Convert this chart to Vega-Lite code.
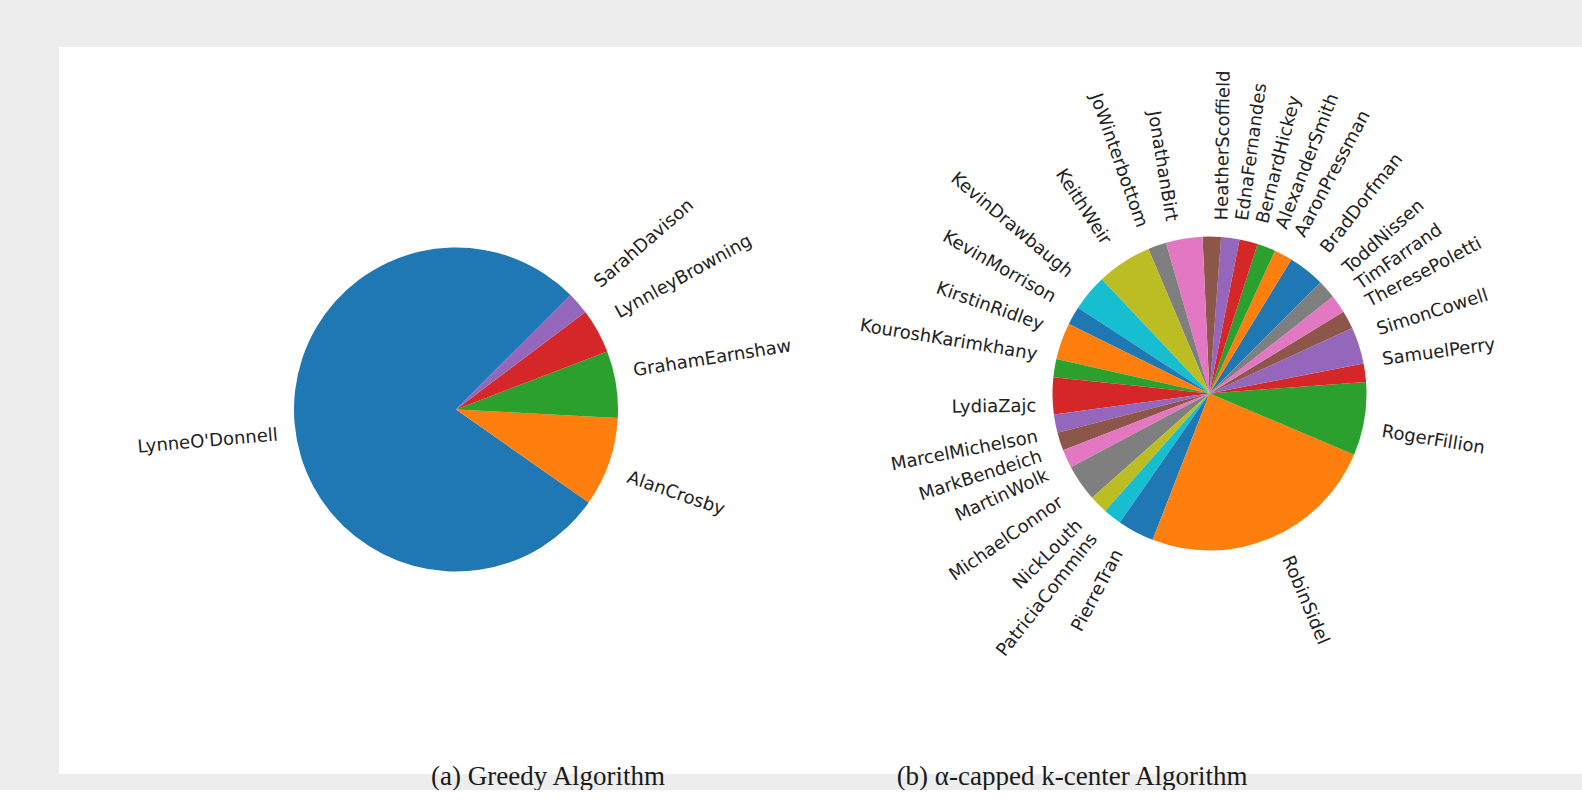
{
  "$schema": "https://vega.github.io/schema/vega-lite/v6.json",
  "background": "#ededed",
  "padding": {"left": 59, "top": 47, "right": 0, "bottom": 0},
  "spacing": 0,
  "config": {"view": {"fill": "white", "stroke": null}},
  "resolve": {"scale": {"color": "independent", "theta": "independent"}},
  "hconcat": [
    {
      "width": 794,
      "height": 727,
      "view": {"fill": "white", "stroke": null},
      "title": {"text": "(a) Greedy Algorithm", "orient": "bottom", "anchor": "middle", "dx": 92, "offset": 11, "baseline": "alphabetic", "font": "Liberation Serif", "fontSize": 27, "fontWeight": "normal", "color": "#1a1a1a"},
      "data": {"values": [
        {"idx": 0, "name": "LynneO'Donnell", "count": 35},
        {"idx": 1, "name": "AlanCrosby", "count": 4},
        {"idx": 2, "name": "GrahamEarnshaw", "count": 3},
        {"idx": 3, "name": "LynnleyBrowning", "count": 2},
        {"idx": 4, "name": "SarahDavison", "count": 1}
      ]},
      "transform": [
        {"joinaggregate": [{"op": "sum", "field": "count", "as": "total"}]},
        {"window": [{"op": "sum", "field": "count", "as": "cum"}], "sort": [{"field": "idx"}], "frame": [null, 0]},
        {"calculate": "(datum.cum - datum.count) / datum.total", "as": "f0"},
        {"calculate": "datum.cum / datum.total", "as": "f1"},
        {"calculate": "(datum.f0 + datum.f1) / 2", "as": "fm"},
        {"calculate": "(45 + 360 * datum.fm) * PI / 180", "as": "arad"},
        {"calculate": "cos(datum.arad) > 0", "as": "right"},
        {"calculate": "datum.right ? -datum.arad * 180 / PI : -(datum.arad * 180 / PI + 180)", "as": "ang"},
        {"calculate": "21 * abs(sin(datum.arad) * cos(datum.arad))", "as": "offOut"},
        {"calculate": "-10.5 * cos(2 * datum.arad) * (sin(datum.arad) >= 0 ? 1 : -1)", "as": "ldy"}
      ],
      "layer": [
        {
          "mark": {"type": "arc", "outerRadius": 162, "yOffset": -1},
          "encoding": {
            "theta": {"field": "f0", "type": "quantitative", "stack": null, "scale": {"domain": [0, 1], "range": [0.7854, -5.4978]}},
            "theta2": {"field": "f1"},
            "color": {"field": "name", "type": "nominal", "legend": null,
              "scale": {"domain": ["LynneO'Donnell", "AlanCrosby", "GrahamEarnshaw", "LynnleyBrowning", "SarahDavison"],
                        "range": ["#1f77b4", "#ff7f0e", "#2ca02c", "#d62728", "#9467bd"]}}
          }
        },
        {
          "mark": {"type": "text", "radius": 178, "yOffset": -1, "font": "DejaVu Sans", "fontSize": 18, "color": "#222222", "baseline": "middle",
                   "align": {"expr": "datum.right ? 'left' : 'right'"},
                   "angle": {"expr": "datum.ang"},
                   "dx": {"expr": "datum.right ? datum.offOut : -datum.offOut"},
                   "dy": {"expr": "datum.ldy"}},
          "encoding": {
            "theta": {"field": "fm", "type": "quantitative", "stack": null, "scale": {"domain": [0, 1], "range": [0.7854, -5.4978]}},
            "text": {"field": "name", "type": "nominal"}
          }
        }
      ]
    },
    {
      "width": 729,
      "height": 727,
      "view": {"fill": "white", "stroke": null},
      "title": {"text": "(b) α-capped k-center Algorithm", "orient": "bottom", "anchor": "middle", "dx": -145.5, "offset": 11, "baseline": "alphabetic", "font": "Liberation Serif", "fontSize": 27, "fontWeight": "normal", "color": "#1a1a1a"},
      "data": {"values": [
        {"idx": 0, "name": "BradDorfman", "count": 2},
        {"idx": 1, "name": "AaronPressman", "count": 1},
        {"idx": 2, "name": "AlexanderSmith", "count": 1},
        {"idx": 3, "name": "BernardHickey", "count": 1},
        {"idx": 4, "name": "EdnaFernandes", "count": 1},
        {"idx": 5, "name": "HeatherScoffield", "count": 1},
        {"idx": 6, "name": "JonathanBirt", "count": 2},
        {"idx": 7, "name": "JoWinterbottom", "count": 1},
        {"idx": 8, "name": "KeithWeir", "count": 3},
        {"idx": 9, "name": "KevinDrawbaugh", "count": 2},
        {"idx": 10, "name": "KevinMorrison", "count": 1},
        {"idx": 11, "name": "KirstinRidley", "count": 2},
        {"idx": 12, "name": "KouroshKarimkhany", "count": 1},
        {"idx": 13, "name": "LydiaZajc", "count": 2},
        {"idx": 14, "name": "MarcelMichelson", "count": 1},
        {"idx": 15, "name": "MarkBendeich", "count": 1},
        {"idx": 16, "name": "MartinWolk", "count": 1},
        {"idx": 17, "name": "MichaelConnor", "count": 2},
        {"idx": 18, "name": "NickLouth", "count": 1},
        {"idx": 19, "name": "PatriciaCommins", "count": 1},
        {"idx": 20, "name": "PierreTran", "count": 2},
        {"idx": 21, "name": "RobinSidel", "count": 13},
        {"idx": 22, "name": "RogerFillion", "count": 4},
        {"idx": 23, "name": "SamuelPerry", "count": 1},
        {"idx": 24, "name": "SimonCowell", "count": 2},
        {"idx": 25, "name": "TheresePoletti", "count": 1},
        {"idx": 26, "name": "TimFarrand", "count": 1},
        {"idx": 27, "name": "ToddNissen", "count": 1}
      ]},
      "transform": [
        {"joinaggregate": [{"op": "sum", "field": "count", "as": "total"}]},
        {"window": [{"op": "sum", "field": "count", "as": "cum"}], "sort": [{"field": "idx"}], "frame": [null, 0]},
        {"calculate": "(datum.cum - datum.count) / datum.total", "as": "f0"},
        {"calculate": "datum.cum / datum.total", "as": "f1"},
        {"calculate": "(datum.f0 + datum.f1) / 2", "as": "fm"},
        {"calculate": "(45 + 360 * datum.fm) * PI / 180", "as": "arad"},
        {"calculate": "cos(datum.arad) > 0", "as": "right"},
        {"calculate": "datum.right ? -datum.arad * 180 / PI : -(datum.arad * 180 / PI + 180)", "as": "ang"},
        {"calculate": "21 * abs(sin(datum.arad) * cos(datum.arad))", "as": "offOut"},
        {"calculate": "-10.5 * cos(2 * datum.arad) * (sin(datum.arad) >= 0 ? 1 : -1)", "as": "ldy"}
      ],
      "layer": [
        {
          "mark": {"type": "arc", "outerRadius": 157, "xOffset": -8, "yOffset": -17},
          "encoding": {
            "theta": {"field": "f0", "type": "quantitative", "stack": null, "scale": {"domain": [0, 1], "range": [0.7854, -5.4978]}},
            "theta2": {"field": "f1"},
            "color": {"field": "name", "type": "nominal", "legend": null,
              "scale": {"domain": ["BradDorfman", "AaronPressman", "AlexanderSmith", "BernardHickey", "EdnaFernandes", "HeatherScoffield", "JonathanBirt", "JoWinterbottom", "KeithWeir", "KevinDrawbaugh", "KevinMorrison", "KirstinRidley", "KouroshKarimkhany", "LydiaZajc", "MarcelMichelson", "MarkBendeich", "MartinWolk", "MichaelConnor", "NickLouth", "PatriciaCommins", "PierreTran", "RobinSidel", "RogerFillion", "SamuelPerry", "SimonCowell", "TheresePoletti", "TimFarrand", "ToddNissen"],
                        "range": ["#1f77b4", "#ff7f0e", "#2ca02c", "#d62728", "#9467bd", "#8c564b", "#e377c2", "#7f7f7f", "#bcbd22", "#17becf",
                                  "#1f77b4", "#ff7f0e", "#2ca02c", "#d62728", "#9467bd", "#8c564b", "#e377c2", "#7f7f7f", "#bcbd22", "#17becf",
                                  "#1f77b4", "#ff7f0e", "#2ca02c", "#d62728", "#9467bd", "#8c564b", "#e377c2", "#7f7f7f"]}}
          }
        },
        {
          "mark": {"type": "text", "radius": 173, "xOffset": -8, "yOffset": -17, "font": "DejaVu Sans", "fontSize": 18, "color": "#222222", "baseline": "middle",
                   "align": {"expr": "datum.right ? 'left' : 'right'"},
                   "angle": {"expr": "datum.ang"},
                   "dx": {"expr": "datum.right ? datum.offOut : -datum.offOut"},
                   "dy": {"expr": "datum.ldy"}},
          "encoding": {
            "theta": {"field": "fm", "type": "quantitative", "stack": null, "scale": {"domain": [0, 1], "range": [0.7854, -5.4978]}},
            "text": {"field": "name", "type": "nominal"}
          }
        }
      ]
    }
  ]
}
